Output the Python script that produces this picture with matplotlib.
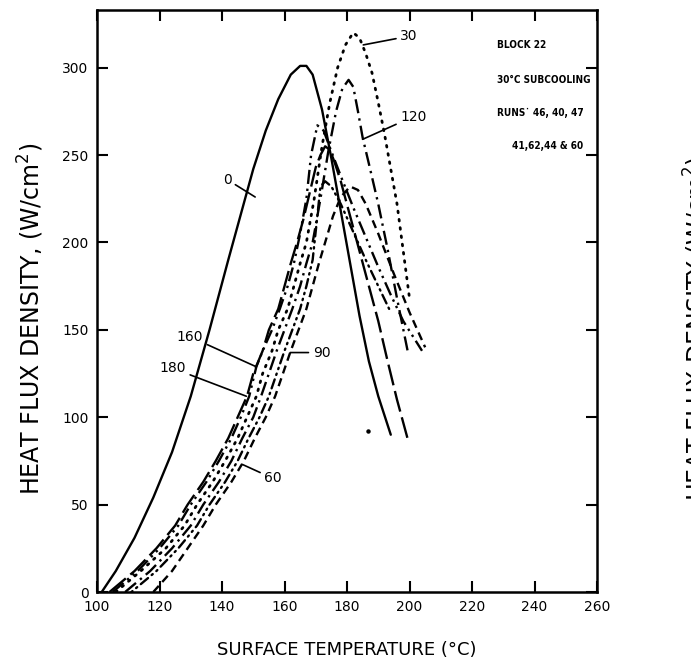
import matplotlib
matplotlib.use("Agg")
import matplotlib.pyplot as plt
from matplotlib import font_manager
from matplotlib.font_manager import FontProperties

# ---------------------------------------------------------
# DATA
# ---------------------------------------------------------

x_run0 = [101.5, 106, 112, 118, 124, 130, 136, 142, 146, 150, 154, 158, 162,
          165, 167, 169, 172, 175, 178, 181, 184, 187, 190, 194]
y_run0 = [0, 12, 31, 54, 80, 112, 150, 190, 216, 242, 264, 282, 296,
          301, 301, 296, 276, 248, 218, 188, 158, 132, 112, 90]

x_run30 = [106, 114, 122, 128, 132, 137, 141, 145, 148, 151, 153, 156, 158,
           161, 163, 165, 167, 169.5, 172, 174.5, 177, 179.5, 182, 184, 186,
           188, 190, 192, 194, 196, 198, 200]
y_run30 = [0, 12, 25, 38, 50, 63, 75, 88, 100, 112, 125, 138, 150,
           162, 175, 188, 200, 225, 255, 280, 300, 313, 320, 317, 308,
           297, 280, 262, 242, 222, 195, 168]

x_run60 = [118, 124, 129, 134, 138, 143, 147, 150.5, 154, 157, 159.5, 162,
           164.5, 167, 169, 171, 173, 175.5, 178, 181, 183.5, 186, 190, 195,
           200, 205]
y_run60 = [0, 12, 25, 38, 50, 63, 75, 88, 100, 112, 125, 138,
           150, 162, 175, 188, 200, 215, 226, 232, 230, 222, 205, 182,
           160, 140]

x_run90 = [111, 119, 126, 132, 136, 141, 145, 148.5, 152, 155, 157.5, 160,
           162.5, 165, 167, 169, 170.5, 171.5, 173, 175, 178, 182, 186, 190,
           194]
y_run90 = [0, 12, 25, 38, 50, 63, 75, 88, 100, 112, 125, 138,
           150, 162, 175, 190, 215, 232, 235, 232, 222, 206, 190, 175,
           160]

x_run120 = [109, 117, 124, 130, 134, 139, 143, 146.5, 150, 152.5, 155, 157.5,
            160, 162.5, 165, 167, 169, 171.5, 174, 176.5, 178.5, 180.5, 182,
            183.5, 185, 187, 190, 193, 196, 199.5]
y_run120 = [0, 12, 25, 38, 50, 63, 75, 88, 100, 112, 125, 138,
            150, 162, 175, 188, 200, 225, 252, 275, 288, 293, 289,
            275, 260, 245, 222, 196, 168, 137]

x_run150 = [105, 113, 120, 126, 130, 135, 139, 143, 146, 148.7, 151, 153.5,
            156, 158.5, 161, 163, 165, 167, 168.5, 170.5, 172.5, 175, 178,
            182, 186, 190, 194, 198, 204]
y_run150 = [0, 12, 25, 38, 50, 63, 75, 88, 100, 112, 129, 140,
            150, 162, 175, 188, 205, 225, 250, 267, 264, 252, 238,
            220, 203, 186, 170, 155, 138]

x_run180 = [104, 112, 119, 125, 129, 134, 138, 142, 145, 148, 150, 153, 155,
            158, 160, 162, 164, 166, 168, 170, 171.5, 173, 174.5, 176, 178,
            181, 184, 187, 190, 193, 196, 199.5]
y_run180 = [0, 12, 25, 38, 50, 63, 75, 88, 100, 112, 125, 138, 150,
            162, 175, 188, 200, 213, 228, 243, 250, 255, 253, 246, 235,
            215, 195, 175, 155, 132, 110, 87]

x_ticks = [100, 120, 140, 160, 180, 200, 220, 240, 260]
y_ticks = [0, 50, 100, 150, 200, 250, 300]

note_lines = ["BLOCK 22", "30\u00b0C SUBCOOLING", "RUNS\u02d9 46, 40, 47"]
note_last = "41,62,44 & 60"

# ---------------------------------------------------------
# FONT FOR THE NOTE BLOCK (narrow face if one is installed)
# ---------------------------------------------------------

plt.rcParams["font.family"] = ["DejaVu Sans"]


def pick_narrow_font():

    best = None

    for f in font_manager.fontManager.ttflist:

        narrow = ("Narrow" in f.name or "Condensed" in f.name
                  or f.stretch in ("condensed", "semi-condensed"))

        if not narrow or f.style != "normal":
            continue

        bold = str(f.weight) in ("bold", "700", "600", "semibold")
        score = 2 if bold else 1

        if best is None or score > best[0]:
            best = (score, f.fname)

    return best[1] if best else None


narrow_path = pick_narrow_font()

if narrow_path:
    note_fp = FontProperties(fname=narrow_path, size=7.2)
else:
    note_fp = FontProperties(family="DejaVu Sans", weight="bold", size=6.6)

# ---------------------------------------------------------
# FIGURE
# ---------------------------------------------------------

fig = plt.figure(figsize=(6.91, 6.64), dpi=100)
ax = fig.add_axes([0.1404, 0.1084, 0.7236, 0.8766])

lw = 1.7

ax.plot(x_run0, y_run0, color="black", lw=lw, solid_capstyle="round")
ax.plot(x_run30, y_run30, color="black", lw=2.0,
        linestyle=(0, (0.6, 2.4)), dash_capstyle="round")
ax.plot(x_run60, y_run60, color="black", lw=lw,
        linestyle=(0, (3.5, 2.2)))
ax.plot(x_run90, y_run90, color="black", lw=lw,
        linestyle=(0, (0.6, 2, 0.6, 2, 4, 2)), dash_capstyle="round")
ax.plot(x_run120, y_run120, color="black", lw=lw,
        linestyle=(0, (6, 2.2, 1, 2.2)))
ax.plot(x_run150, y_run150, color="black", lw=lw,
        linestyle=(0, (6, 2, 1, 2, 1, 2)))
ax.plot(x_run180, y_run180, color="black", lw=lw,
        linestyle=(0, (9, 2.5)))

# stray dot from the scan
ax.plot([186.7], [92], "o", color="black", ms=2.2)

ax.set_xlim(100, 260)
ax.set_ylim(0, 333)
ax.set_xticks(x_ticks)
ax.set_yticks(y_ticks)
ax.tick_params(direction="in", length=8, width=1.5, top=True, right=True,
               labelsize=10, pad=6)
for s in ax.spines.values():
    s.set_linewidth(1.8)

ax.set_xlabel("SURFACE TEMPERATURE (\u00b0C)", fontsize=13, labelpad=19)
ax.set_ylabel("HEAT FLUX DENSITY, (W/cm$^2$)", fontsize=17)
ax.yaxis.set_label_coords(-0.102, 0.47)

# curve labels with leader lines
labels = [
    ("0", (150.6, 226), (143, 236)),
    ("30", (185.2, 313), (197, 318)),
    ("120", (185.0, 259), (197, 272)),
    ("160", (150.8, 129), (134, 146)),
    ("180", (147.8, 112), (128.5, 128)),
    ("90", (161.8, 137), (169, 137)),
    ("60", (146.5, 73), (153.5, 65)),
]
for txt, tip, pos in labels:
    ax.annotate(txt, xy=tip, xytext=pos, fontsize=10,
                ha="left" if pos[0] > tip[0] else "right", va="center",
                arrowprops=dict(arrowstyle="-", color="black", lw=1.2,
                                shrinkA=1, shrinkB=0))

note_y = [313, 293, 274]
for line, yy in zip(note_lines, note_y):
    ax.text(228, yy, line, fontproperties=note_fp, ha="left", va="center")
ax.text(255.5, 255, note_last, fontproperties=note_fp,
        ha="right", va="center")

# clipped label of the neighbouring chart
fig.text(1.008, 0.505, "HEAT FLUX DENSITY (W/cm$^2$)", rotation=90,
         fontsize=17, ha="center", va="center")

fig.savefig("out.png", dpi=100)
